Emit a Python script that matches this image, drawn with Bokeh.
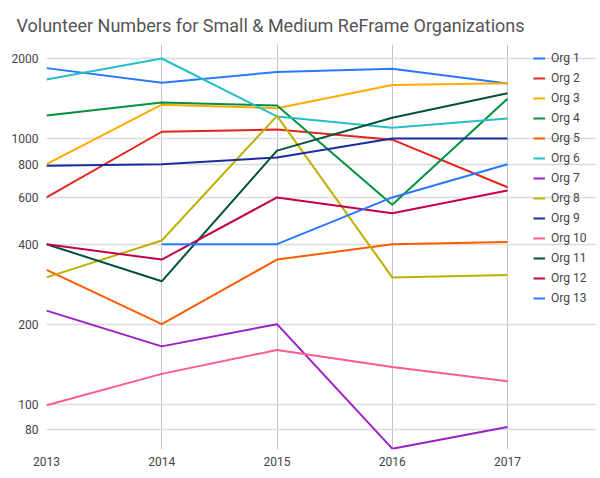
from bokeh.plotting import figure
from bokeh.models import Range1d, FixedTicker, NumeralTickFormatter, Legend, LegendItem
from bokeh.embed import file_html
from bokeh.resources import INLINE
import numpy as np

years = [2013, 2014, 2015, 2016, 2017]
org_names = ["Org 1", "Org 2", "Org 3", "Org 4", "Org 5", "Org 6", "Org 7",
             "Org 8", "Org 9", "Org 10", "Org 11", "Org 12", "Org 13"]
org1 = [1840, 1620, 1780, 1830, 1610]
org2 = [600, 1060, 1080, 990, 655]
org3 = [800, 1340, 1300, 1590, 1615]
org4 = [1220, 1366, 1330, 563, 1410]
org5 = [320, 200, 350, 400, 408]
org6 = [1667, 2000, 1210, 1097, 1190]
org7 = [225, 165, 200, 68, 82]
org8 = [300, 413, 1217, 300, 306]
org9 = [790, 800, 848, 1000, 1000]
org10 = [99, 130, 160, 138, 122]
org11 = [400, 290, 900, 1196, 1480]
org12 = [400, 350, 600, 523, 637]
org13 = [float("nan"), 400, 400, 600, 800]
series = [org1, org2, org3, org4, org5, org6, org7, org8, org9, org10, org11, org12, org13]
colors = ["#2979ff", "#e3261b", "#ffab00", "#00923f", "#ff5b00", "#26bfc7", "#9d1fc8",
          "#bfb000", "#1b2ca0", "#ff5a99", "#00523a", "#c2004c", "#2979ff"]
y_ticks = [80, 100, 200, 400, 600, 800, 1000, 2000]
y_min, y_top_tick = 67.5, 2000

# frame: left 46, top 44, bottom 449 (page px); years 2013..2017 span x 46..507
px_per_year = (507 - 46) / 4.0
x_end = years[-1] + (596 - 507) / px_per_year
y_end = 10 ** (np.log10(y_top_tick) + 14 / 265.7)

p = figure(width=596, height=470, y_axis_type="log", output_backend="svg",
           toolbar_location=None, x_range=Range1d(years[0], x_end),
           y_range=Range1d(y_min, y_end),
           min_border_left=46, min_border_right=0, min_border_top=44, min_border_bottom=21)
p.outline_line_color = None

p.title.text = "Volunteer Numbers for Small & Medium ReFrame Organizations"
p.title.text_font = "Roboto"
p.title.text_font_size = "18px"
p.title.text_font_style = "normal"
p.title.text_color = "#555555"
p.title.align = "left"
p.title.offset = -30
p.title.standoff = 17

items = []
for name, vals, c in zip(org_names, series, colors):
    r = p.line(years, np.array(vals, dtype=float), line_color=c, line_width=2)
    items.append(LegendItem(label=name, renderers=[r]))

legend = Legend(items=items, location=(487, 141), glyph_width=12, glyph_height=20,
                label_height=20, spacing=0, padding=0, margin=0, label_standoff=6,
                label_text_font="Roboto", label_text_font_size="12px",
                label_text_color="#444444", border_line_color=None,
                background_fill_alpha=0)
p.add_layout(legend, "center")

p.yaxis.ticker = FixedTicker(ticks=y_ticks)
p.yaxis.formatter = NumeralTickFormatter(format="0")
p.xaxis.ticker = FixedTicker(ticks=years)
p.xaxis.formatter = NumeralTickFormatter(format="0")
for ax in (p.xaxis, p.yaxis):
    ax.axis_line_color = None
    ax.major_tick_line_color = None
    ax.minor_tick_line_color = None
    ax.major_tick_out = 0
    ax.major_tick_in = 0
    ax.major_label_text_font = "Roboto"
    ax.major_label_text_font_size = "12px"
    ax.major_label_text_color = "#444444"
p.yaxis.major_label_standoff = 8
p.xaxis.major_label_standoff = 7

p.ygrid.ticker = FixedTicker(ticks=y_ticks)
p.ygrid.grid_line_color = "#dcdcdc"
p.ygrid.grid_line_width = 1.5
p.ygrid.bounds = (years[0], years[-1])
p.xgrid.ticker = FixedTicker(ticks=years)
p.xgrid.grid_line_color = "#c4c4c4"
p.xgrid.grid_line_width = 1
p.xgrid.bounds = (y_min, y_top_tick)
p.ygrid.level = "underlay"
p.xgrid.level = "underlay"

open("out.html", "w").write(file_html(p, INLINE))
